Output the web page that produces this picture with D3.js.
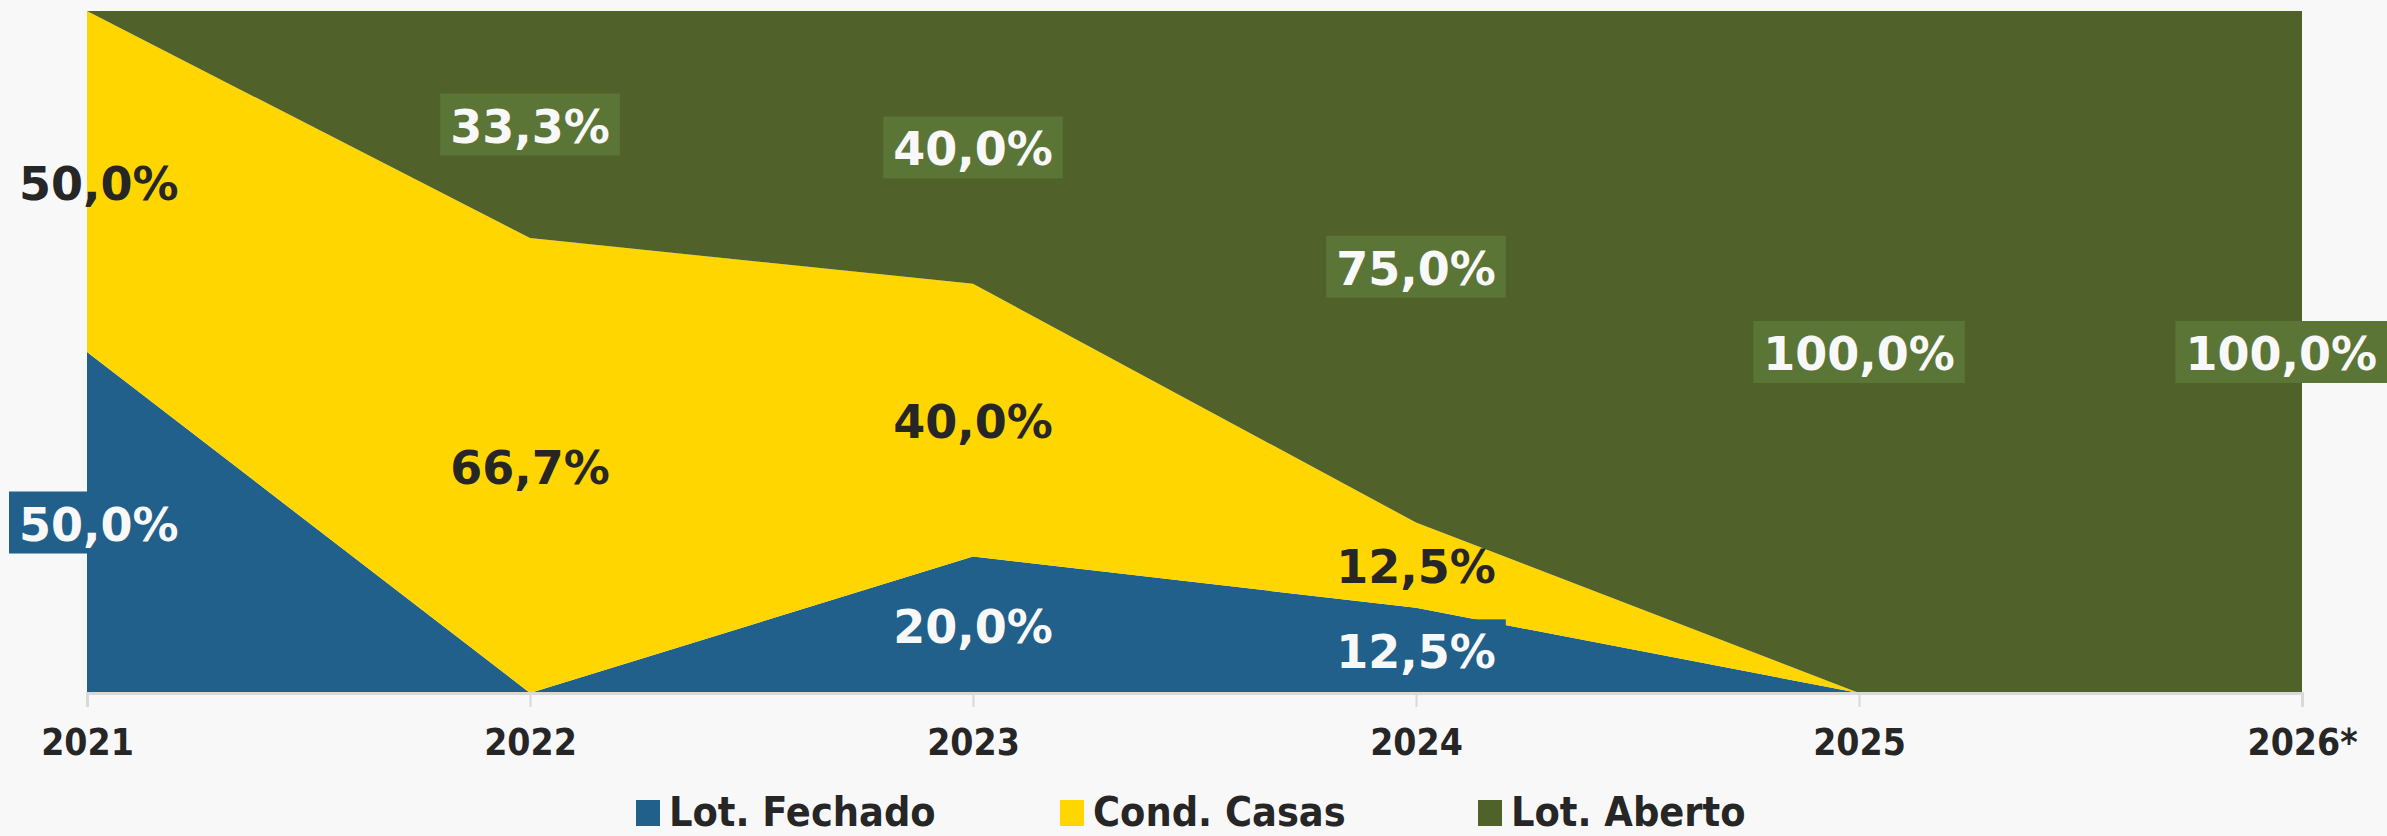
<!DOCTYPE html>
<html>
<head>
<meta charset="utf-8">
<script src="https://cdn.jsdelivr.net/npm/d3@7"></script>
<style>
  html, body { margin: 0; padding: 0; background: #f8f8f8; }
  svg { display: block; }
</style>
</head>
<body>
<svg id="chart" width="2387" height="836"></svg>
<script>
// DATA
var years = ["2021", "2022", "2023", "2024", "2025", "2026*"];
var seriesNames = ["Lot. Fechado", "Cond. Casas", "Lot. Aberto"];
var lotFechado = [50.0, 0, 20.0, 12.5, 0, 0];
var condCasas = [50.0, 66.7, 40.0, 12.5, 0, 0];
var lotAberto = [0, 33.3, 40.0, 75.0, 100.0, 100.0];

var colors = ["#21608a", "#ffd600", "#50622a"];
var boxColors = ["#21608a", null, "#5b7536"];
var textColors = ["#f8f8f8", "#262626", "#f8f8f8"];

var svg = d3.select("#chart"),
    width = +svg.attr("width"),
    height = +svg.attr("height");

// plot bounds (note: "top" is taken by window.top)
var plotLeft = 87, plotRight = 2302, plotTop = 11, plotBottom = 693;

var rows = years.map(function(y, i) {
  return { year: y, "Lot. Fechado": lotFechado[i], "Cond. Casas": condCasas[i], "Lot. Aberto": lotAberto[i] };
});

var stack = d3.stack().keys(seriesNames);
var layers = stack(rows);

var x = d3.scalePoint().domain(years).range([plotLeft, plotRight]);
var y = d3.scaleLinear().domain([0, 100]).range([plotBottom, plotTop]);

var area = d3.area()
    .x(function(d) { return x(d.data.year); })
    .y0(function(d) { return y(d[0]); })
    .y1(function(d) { return y(d[1]); });

svg.append("g").selectAll("path").data(layers).enter()
  .append("path")
  .attr("d", area)
  .attr("fill", function(d, i) { return colors[i]; });

// axis
var axis = svg.append("g").attr("transform", "translate(0," + plotBottom + ")")
  .call(d3.axisBottom(x).tickSize(14).tickPadding(22));
axis.select(".domain").attr("stroke", "#d9d9d9").attr("stroke-width", 3);
axis.selectAll(".tick line").attr("stroke", "#d9d9d9").attr("stroke-width", 2);
axis.selectAll(".tick text")
  .attr("fill", "#262626")
  .style("font-family", "'DejaVu Sans Condensed', 'DejaVu Sans'")
  .style("font-weight", "bold")
  .style("font-size", "37px");

// data labels
var fmt = function(v) { return d3.format(".1f")(v).replace(".", ",") + "%"; };
var labelG = svg.append("g");
layers.forEach(function(layer, si) {
  layer.forEach(function(d) {
    var v = d[1] - d[0];
    if (v <= 0) return;
    var cx = x(d.data.year), cy = y((d[0] + d[1]) / 2);
    var g = labelG.append("g");
    var box = g.append("rect");
    var t = g.append("text")
      .attr("text-anchor", "middle")
      .attr("dominant-baseline", "central")
      .attr("fill", textColors[si])
      .style("font-family", "'DejaVu Sans'")
      .style("font-weight", "bold")
      .style("font-size", "46px")
      .text(fmt(v));
    var w = t.node().getComputedTextLength() + 20;
    var bx = cx - w / 2;
    if (bx < 9) bx = 9;
    if (bx + w > width) bx = width - w;
    t.attr("x", bx + w / 2).attr("y", cy + 2);
    if (boxColors[si]) {
      box.attr("x", bx).attr("y", cy - 31).attr("width", w).attr("height", 62)
        .attr("fill", boxColors[si]);
    } else {
      box.remove();
    }
  });
});

// legend
var legendX = [636, 1060, 1478];
var legend = svg.append("g").selectAll("g").data(seriesNames).enter()
  .append("g")
  .attr("transform", function(d, i) { return "translate(" + legendX[i] + ",0)"; });
legend.append("rect")
  .attr("x", 0).attr("y", 800).attr("width", 24).attr("height", 26)
  .attr("fill", function(d, i) { return colors[i]; });
legend.append("text")
  .attr("x", 33).attr("y", 812)
  .attr("dominant-baseline", "central")
  .attr("fill", "#262626")
  .style("font-family", "'DejaVu Sans Condensed', 'DejaVu Sans'")
  .style("font-weight", "bold")
  .style("font-size", "41px")
  .text(function(d) { return d; });
</script>
</body>
</html>
